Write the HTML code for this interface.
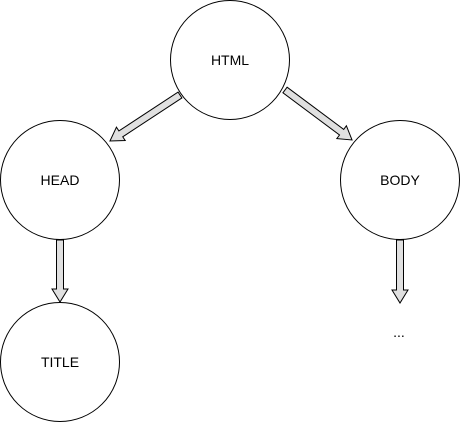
<!DOCTYPE html>
<html><head><style>body{margin:0;background:#fff}svg{display:block}text{font-family:"Liberation Sans",Arial,sans-serif;font-size:14px}</style></head>
<body>
<svg width="460" height="424" viewBox="0 0 460 424">
<g fill="#fff" stroke="#000" stroke-width="1">
<circle cx="230" cy="60" r="59.5"/>
<circle cx="60" cy="180" r="59.5"/>
<circle cx="400" cy="180" r="59.5"/>
<circle cx="60" cy="362" r="59.5"/>
</g>
<g fill="#e0e0e0" stroke="#000" stroke-width="1" stroke-linejoin="miter">
<g transform="translate(180,95) rotate(146.7)"><polygon points="0,-3.5 70.8,-3.5 70.8,-8 83.8,0 70.8,8 70.8,3.5 0,3.5"/></g>
<g transform="translate(285,90) rotate(36.7)"><polygon points="0,-3.5 70.6,-3.5 70.6,-8 83.6,0 70.6,8 70.6,3.5 0,3.5"/></g>
<g transform="translate(60,240) rotate(90)"><polygon points="0,-3.5 49,-3.5 49,-8 62,0 49,8 49,3.5 0,3.5"/></g>
<g transform="translate(400,240) rotate(90)"><polygon points="0,-3.5 50,-3.5 50,-8 63,0 50,8 50,3.5 0,3.5"/></g>
</g>
<g text-anchor="middle" fill="#000">
<text x="230" y="65">HTML</text>
<text x="60" y="185">HEAD</text>
<text x="400" y="185">BODY</text>
<text x="60" y="367">TITLE</text>
<text x="399" y="337">...</text>
</g>
</svg>
</body></html>
